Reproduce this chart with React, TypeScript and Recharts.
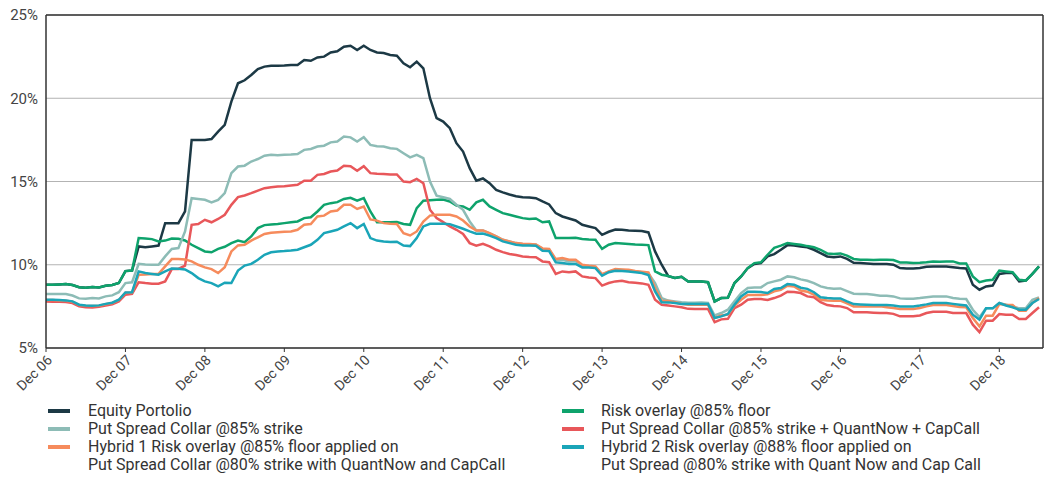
import { LineChart, Line, XAxis, YAxis, CartesianGrid, ReferenceLine } from 'recharts';

// monthly readings, Dec 06 (index 0) .. Jun 19 (index 150)
const equity = [
  8.8, 8.8, 8.82, 8.84, 8.78, 8.65, 8.62, 8.66, 8.64, 8.74, 8.78, 8.9,
  9.62, 9.65, 11.1, 11.05, 11.1, 11.15, 12.5, 12.5, 12.5, 13.2, 17.5, 17.5,
  17.5, 17.55, 18.0, 18.4, 19.8, 20.9, 21.08, 21.4, 21.75, 21.9, 21.95, 21.95,
  21.96, 22.0, 22.0, 22.3, 22.25, 22.45, 22.5, 22.75, 22.82, 23.1, 23.15, 22.9,
  23.15, 22.9, 22.75, 22.72, 22.6, 22.55, 22.1, 21.86, 22.2, 21.8, 20.0, 18.8,
  18.6, 18.2, 17.3, 16.8, 15.8, 15.05, 15.18, 14.9, 14.5, 14.35, 14.22, 14.12,
  14.06, 14.04, 14.0, 13.8, 13.62, 13.1, 12.9, 12.78, 12.66, 12.4, 12.3, 12.2,
  11.8, 11.98, 12.12, 12.1, 12.06, 12.04, 12.02, 11.94, 10.8, 10.0, 9.32, 9.2,
  9.28, 9.0, 9.0, 9.0, 8.95, 7.8, 8.0, 8.02, 8.9, 9.3, 9.8, 10.05,
  10.1, 10.5, 10.64, 10.9, 11.18, 11.15, 11.1, 11.05, 10.9, 10.7, 10.5, 10.45,
  10.5, 10.35, 10.12, 10.1, 10.08, 10.05, 10.05, 10.05, 10.0, 9.8, 9.78, 9.78,
  9.8, 9.88, 9.9, 9.9, 9.9, 9.85, 9.8, 9.78, 8.8, 8.5, 8.7, 8.75,
  9.45, 9.5, 9.52, 9.0, 9.05, 9.45, 9.9,
];

const riskOverlay = [
  8.8, 8.8, 8.82, 8.84, 8.78, 8.65, 8.62, 8.66, 8.64, 8.74, 8.78, 8.9,
  9.62, 9.65, 11.6, 11.58, 11.54, 11.4, 11.45, 11.58, 11.56, 11.46, 11.2, 11.0,
  10.8, 10.75, 10.95, 11.08, 11.3, 11.45, 11.36, 11.7, 12.2, 12.38, 12.42, 12.45,
  12.5, 12.55, 12.6, 12.8, 12.85, 13.2, 13.6, 13.7, 13.76, 13.95, 14.02, 13.85,
  14.0, 13.2, 12.56, 12.56, 12.55, 12.57, 12.45, 12.4, 13.4, 13.85, 13.88, 13.9,
  13.92, 13.8, 13.55, 13.5, 13.3, 13.75, 13.9, 13.5, 13.3, 13.1, 13.0, 12.9,
  12.8, 12.75, 12.78, 12.55, 12.6, 11.6, 11.6, 11.6, 11.62, 11.55, 11.52, 11.5,
  10.95, 11.2, 11.3, 11.28, 11.25, 11.22, 11.2, 11.18, 9.6, 9.4, 9.32, 9.2,
  9.28, 9.0, 9.0, 9.0, 8.95, 7.8, 8.0, 8.02, 8.9, 9.3, 9.8, 10.1,
  10.15, 10.6, 11.02, 11.15, 11.3, 11.25, 11.2, 11.12, 11.05, 10.9, 10.68, 10.64,
  10.68, 10.55, 10.35, 10.3, 10.3, 10.28, 10.3, 10.3, 10.28, 10.14, 10.14, 10.1,
  10.12, 10.15, 10.2, 10.18, 10.2, 10.2, 10.08, 10.08, 9.3, 8.95, 9.05, 9.1,
  9.65, 9.6, 9.55, 9.1, 9.05, 9.45, 9.9,
];

const putSpreadCollar = [
  8.24, 8.24, 8.24, 8.24, 8.15, 7.98, 7.96, 8.0, 7.98, 8.1, 8.16, 8.35,
  8.9, 8.95, 10.06, 10.02, 10.0, 10.0, 10.5, 10.95, 11.0, 12.0, 14.0, 13.95,
  13.9, 13.75, 13.9, 14.3, 15.5, 15.9, 15.95, 16.2, 16.35, 16.55, 16.6, 16.58,
  16.6, 16.62, 16.65, 16.9, 16.95, 17.1, 17.15, 17.35, 17.4, 17.7, 17.65, 17.4,
  17.66, 17.2, 17.12, 17.1, 17.0, 16.96, 16.7, 16.45, 16.6, 16.4, 15.0, 14.15,
  14.05, 13.95, 13.6, 13.3, 12.6, 12.06, 12.06, 11.88, 11.7, 11.5, 11.4, 11.3,
  11.24, 11.22, 11.2, 10.95, 10.92, 10.25, 10.3, 10.2, 10.22, 9.94, 9.9, 9.86,
  9.4, 9.58, 9.7, 9.68, 9.66, 9.6, 9.55, 9.48, 8.9, 8.0, 7.85, 7.8,
  7.75, 7.72, 7.72, 7.74, 7.7, 6.95, 7.1, 7.3, 7.8, 8.3, 8.6, 8.64,
  8.64, 8.9, 9.0, 9.1, 9.3, 9.25, 9.12, 9.04, 8.9, 8.7, 8.6, 8.56,
  8.58, 8.42, 8.26, 8.24, 8.24, 8.2, 8.14, 8.14, 8.1, 7.98, 7.96, 7.96,
  8.0, 8.05, 8.1, 8.1, 8.1, 8.0, 7.96, 7.94, 7.3, 6.85, 7.38, 7.38,
  7.7, 7.6, 7.5, 7.38, 7.38, 7.9, 8.04,
];

const pscQuantNow = [
  7.8, 7.78, 7.78, 7.76, 7.7, 7.5, 7.45, 7.44, 7.48, 7.55, 7.62, 7.8,
  8.2, 8.25, 8.95, 8.9, 8.86, 8.86, 9.0, 9.74, 9.75, 9.95, 12.4, 12.45,
  12.7, 12.55, 12.75, 13.0, 13.6, 14.06, 14.16, 14.3, 14.45, 14.6, 14.66, 14.7,
  14.72, 14.76, 14.8, 15.05, 15.05, 15.4, 15.45, 15.6, 15.66, 15.95, 15.92, 15.65,
  15.92, 15.5, 15.46, 15.45, 15.42, 15.42, 15.0, 14.96, 15.16, 14.9, 13.3, 12.8,
  12.56, 12.3, 12.1, 11.85, 11.3, 11.15, 11.26, 11.1, 10.9, 10.76, 10.65, 10.58,
  10.5, 10.46, 10.45, 10.2, 10.15, 9.45, 9.6, 9.55, 9.6, 9.3, 9.24, 9.2,
  8.75, 8.9, 9.0, 9.04, 8.95, 8.92, 8.88, 8.8, 7.9, 7.6, 7.55, 7.5,
  7.45, 7.35, 7.34, 7.34, 7.34, 6.55, 6.72, 6.75, 7.4, 7.6, 7.9, 7.94,
  7.94, 7.88, 8.0, 8.15, 8.38, 8.36, 8.3, 8.1, 8.05, 7.75, 7.58, 7.52,
  7.5, 7.4, 7.14, 7.14, 7.14, 7.12, 7.1, 7.1, 7.05, 6.9, 6.9, 6.9,
  6.95, 7.1, 7.18, 7.18, 7.18, 7.1, 7.1, 7.1, 6.4, 5.95, 6.64, 6.64,
  7.04, 7.0, 7.0, 6.74, 6.74, 7.1, 7.45,
];

const hybrid1 = [
  7.88, 7.88, 7.86, 7.84, 7.78, 7.58, 7.53, 7.52, 7.54, 7.63, 7.7, 7.88,
  8.32, 8.33, 9.4, 9.42, 9.45, 9.45, 9.9, 10.34, 10.34, 10.32, 10.2, 10.0,
  9.84, 9.74, 9.5, 9.85, 10.8, 11.16, 11.2, 11.45, 11.65, 11.85, 11.92, 11.95,
  11.98, 12.0, 12.1, 12.4, 12.45, 12.9, 12.95, 13.2, 13.26, 13.6, 13.6, 13.35,
  13.5, 12.72, 12.65, 12.5, 12.46, 12.45, 11.9, 11.76, 12.0, 12.6, 12.95, 13.0,
  13.0, 13.0, 12.9, 12.66, 12.3, 12.06, 12.06, 11.9, 11.7, 11.5, 11.4, 11.3,
  11.26, 11.25, 11.22, 10.98, 10.95, 10.34, 10.4, 10.3, 10.3, 10.0, 9.94, 9.9,
  9.44, 9.6, 9.74, 9.72, 9.7, 9.62, 9.58, 9.54, 8.6, 7.84, 7.82, 7.75,
  7.65, 7.6, 7.6, 7.62, 7.6, 6.8, 6.95, 7.0, 7.55, 7.9, 8.18, 8.18,
  8.18, 8.22, 8.4, 8.5, 8.74, 8.7, 8.45, 8.38, 8.2, 7.9, 7.86, 7.84,
  7.84, 7.68, 7.5, 7.5, 7.5, 7.5, 7.5, 7.45, 7.4, 7.34, 7.34, 7.34,
  7.4, 7.5, 7.58, 7.58, 7.58, 7.52, 7.46, 7.44, 6.8, 6.3, 6.94, 6.94,
  7.64, 7.6, 7.58, 7.24, 7.24, 7.7, 8.0,
];

const hybrid2 = [
  7.9, 7.9, 7.88, 7.86, 7.8, 7.6, 7.55, 7.54, 7.56, 7.65, 7.72, 7.9,
  8.34, 8.35, 9.6, 9.5, 9.45, 9.4, 9.6, 9.78, 9.76, 9.72, 9.5, 9.2,
  9.0, 8.9, 8.7, 8.92, 8.9, 9.65, 9.95, 10.05, 10.3, 10.6, 10.75, 10.8,
  10.82, 10.85, 10.9, 11.05, 11.2, 11.5, 11.9, 12.0, 12.1, 12.3, 12.5, 12.2,
  12.45, 11.6, 11.45, 11.4, 11.36, 11.38, 11.15, 11.12, 11.6, 12.3, 12.46, 12.46,
  12.46, 12.44, 12.3, 12.16, 12.0, 11.86, 11.88, 11.75, 11.6, 11.4, 11.3, 11.2,
  11.16, 11.15, 11.14, 10.84, 10.82, 10.14, 10.1, 10.04, 10.05, 9.84, 9.84, 9.8,
  9.34, 9.55, 9.64, 9.62, 9.6, 9.55, 9.5, 9.38, 8.4, 7.75, 7.74, 7.7,
  7.65, 7.64, 7.64, 7.64, 7.64, 6.8, 6.9, 7.05, 7.6, 8.1, 8.38, 8.38,
  8.36, 8.3, 8.55, 8.6, 8.84, 8.8, 8.62, 8.55, 8.35, 8.05, 8.0, 7.98,
  7.98, 7.8, 7.64, 7.62, 7.6, 7.58, 7.58, 7.58, 7.55, 7.5, 7.5, 7.5,
  7.55, 7.62, 7.7, 7.7, 7.7, 7.65, 7.6, 7.55, 7.0, 6.7, 7.38, 7.38,
  7.7, 7.55, 7.45, 7.3, 7.3, 7.7, 7.94,
];

const tickMonths = [0, 12, 24, 36, 48, 60, 72, 84, 96, 108, 120, 132, 144];
const tickLabels = [
  'Dec 06', 'Dec 07', 'Dec 08', 'Dec 09', 'Dec 10', 'Dec 11', 'Dec 12',
  'Dec 13', 'Dec 14', 'Dec 15', 'Dec 16', 'Dec 17', 'Dec 18',
];
const yTicks = [5, 10, 15, 20, 25];

const series = [
  { key: 'equity', name: 'Equity Portolio', color: '#1c3945' },
  { key: 'riskOverlay', name: 'Risk overlay @85% floor', color: '#0ea36c' },
  { key: 'putSpreadCollar', name: 'Put Spread Collar @85% strike', color: '#8dbcb6' },
  { key: 'pscQuantNow', name: 'Put Spread Collar @85% strike + QuantNow + CapCall', color: '#e8575a' },
  { key: 'hybrid1', name: 'Hybrid 1 Risk overlay @85% floor applied on', color: '#f68b5c' },
  { key: 'hybrid2', name: 'Hybrid 2 Risk overlay @88% floor applied on', color: '#1aa5b8' },
];

const legendLeft = [
  { color: '#1c3945', lines: ['Equity Portolio'] },
  { color: '#8dbcb6', lines: ['Put Spread Collar @85% strike'] },
  { color: '#f68b5c', lines: ['Hybrid 1 Risk overlay @85% floor applied on', 'Put Spread Collar @80% strike with QuantNow and CapCall'] },
];
const legendRight = [
  { color: '#0ea36c', lines: ['Risk overlay @85% floor'] },
  { color: '#e8575a', lines: ['Put Spread Collar @85% strike + QuantNow + CapCall'] },
  { color: '#1aa5b8', lines: ['Hybrid 2 Risk overlay @88% floor applied on', 'Put Spread @80% strike with Quant Now and Cap Call'] },
];

const XMAX = 150.6;
const FONT = 'Roboto, "Liberation Sans", sans-serif';

const data = equity.map((v, i) => ({
  m: i,
  equity: v,
  riskOverlay: riskOverlay[i],
  putSpreadCollar: putSpreadCollar[i],
  pscQuantNow: pscQuantNow[i],
  hybrid1: hybrid1[i],
  hybrid2: hybrid2[i],
}));

function LegendColumn({ items, left, textLeft }: { items: typeof legendLeft; left: number; textLeft: number }) {
  return (
    <div style={{ position: 'absolute', left: 0, top: 402 }}>
      {items.map((it, i) =>
        it.lines.map((line, j) => (
          <div key={`${i}-${j}`} style={{ position: 'relative', height: 18, lineHeight: '18px', width: 560 }}>
            {j === 0 && (
              <span
                style={{
                  position: 'absolute',
                  left,
                  top: 7,
                  width: 22,
                  height: 4,
                  background: it.color,
                }}
              />
            )}
            <span style={{ position: 'absolute', left: textLeft, whiteSpace: 'nowrap' }}>{line}</span>
          </div>
        ))
      )}
    </div>
  );
}

export default function App() {
  return (
    <div style={{ position: 'relative', width: 1046, height: 477, fontFamily: FONT, color: '#333', fontSize: 16 }}>
      <style>{'body{margin:0}'}</style>
      <LineChart width={1046} height={400} data={data} margin={{ top: 15, right: 3, left: 0, bottom: 0 }}>
        <CartesianGrid vertical={false} stroke="#b3b3b3" />
        <XAxis
          dataKey="m"
          type="number"
          domain={[0, XMAX]}
          ticks={tickMonths}
          interval={0}
          tickFormatter={(v: number) => tickLabels[tickMonths.indexOf(v)]}
          angle={-45}
          textAnchor="end"
          height={52}
          tickSize={4}
          axisLine={{ stroke: '#333', strokeWidth: 1.5 }}
          tickLine={{ stroke: '#333' }}
          tick={{ fontSize: 14, fill: '#444', fontFamily: FONT }}
        />
        <YAxis
          type="number"
          domain={[5, 25]}
          ticks={yTicks}
          interval={0}
          width={46}
          tickFormatter={(v: number) => `${v}%`}
          tickLine={false}
          axisLine={{ stroke: '#333', strokeWidth: 1.5 }}
          tick={{ fontSize: 15, fill: '#444', fontFamily: FONT }}
        />
        <ReferenceLine y={25} stroke="#333" strokeWidth={1.5} />
        <ReferenceLine x={XMAX} stroke="#333" strokeWidth={1.5} />
        {series.map(s => (
          <Line
            key={s.key}
            type="linear"
            dataKey={s.key}
            name={s.name}
            stroke={s.color}
            strokeWidth={2.5}
            dot={false}
            isAnimationActive={false}
          />
        ))}
      </LineChart>
      <LegendColumn items={legendLeft} left={48} textLeft={88} />
      <LegendColumn items={legendRight} left={562} textLeft={601} />
    </div>
  );
}
